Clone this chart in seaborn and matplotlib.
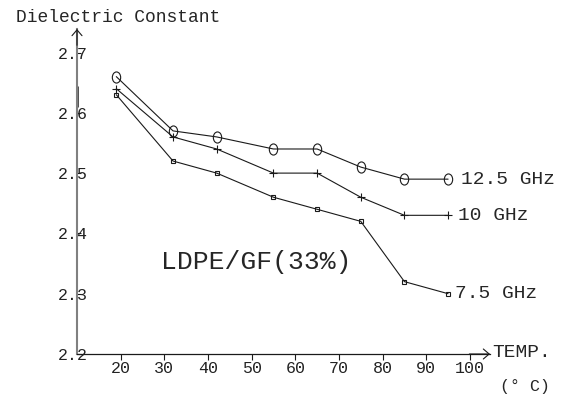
import numpy as np
import pandas as pd
import matplotlib
matplotlib.use("Agg")
import matplotlib.pyplot as plt
import seaborn as sns
from matplotlib.path import Path
from matplotlib.transforms import Affine2D

# ---- data ----
temps = [19, 32, 42, 55, 65, 75, 85, 95]
eps_12_5 = [2.66, 2.57, 2.56, 2.54, 2.54, 2.51, 2.49, 2.49]
eps_10 = [2.64, 2.56, 2.54, 2.50, 2.50, 2.46, 2.43, 2.43]
eps_7_5 = [2.63, 2.52, 2.50, 2.46, 2.44, 2.42, 2.32, 2.30]
series_labels = ["12.5 GHz", "10 GHz", "7.5 GHz"]
x_ticks = [20, 30, 40, 50, 60, 70, 80, 90, 100]
y_ticks = [2.2, 2.3, 2.4, 2.5, 2.6, 2.7]

sns.set_theme(style="white")
plt.rcParams["font.family"] = ["Liberation Mono", "DejaVu Sans Mono"]

fig = plt.figure(figsize=(5.71, 3.94), dpi=100)
ax = fig.add_axes([77 / 571, 40 / 394, (490 - 77) / 571, (354 - 29) / 394])

ellipse = Path.unit_circle().transformed(Affine2D().scale(0.75, 1.0))
styles = [
    dict(marker=ellipse, ms=8, mew=0.8),
    dict(marker="+", ms=5.5, mew=0.8),
    dict(marker="s", ms=3.5, mew=0.8),
]
series = [eps_12_5, eps_10, eps_7_5]
offsets = [9, 7, 5]
for vals, lab, st, off in zip(series, series_labels, styles, offsets):
    sns.lineplot(x=temps, y=vals, ax=ax, color="k", lw=0.8,
                 mfc="none", mec="k", **st)
    ax.annotate(lab, xy=(temps[-1], vals[-1]), xytext=(off, 0),
                textcoords="offset points", ha="left", va="center",
                fontsize=14, annotation_clip=False)

ax.set_xlim(10, 104.6)
ax.set_ylim(2.2, 2.739)
ax.set_xticks(x_ticks)
ax.set_xticklabels([str(t) for t in x_ticks])
ax.set_yticks(y_ticks)
ax.set_yticklabels([f"{t:.1f}" for t in y_ticks])
ax.tick_params(axis="x", direction="out", length=4, width=0.8, pad=1,
               labelsize=12, colors="#222222", bottom=True)
ax.tick_params(axis="y", direction="in", length=3, width=0.8, pad=3,
               labelsize=12, colors="#222222", left=True)
for lab in ax.get_yticklabels():
    lab.set_horizontalalignment("center")
ax.tick_params(axis="x", color="k")
ax.tick_params(axis="y", color="k")

for s in ["top", "right"]:
    ax.spines[s].set_visible(False)
ax.spines["left"].set_color("#808080")
ax.spines["left"].set_linewidth(1.5)
ax.spines["bottom"].set_color("k")
ax.spines["bottom"].set_linewidth(0.9)
ax.vlines(10, 2.61, 2.645, color="k", lw=1.8, clip_on=False)

# axis arrows
ax.annotate("", xy=(0, 1.0), xytext=(0, 0.95), xycoords="axes fraction",
            arrowprops=dict(arrowstyle="->,head_length=0.35,head_width=0.3",
                            color="k", lw=0.8, shrinkA=0, shrinkB=0))
ax.annotate("", xy=(1.0, 0), xytext=(0.95, 0), xycoords="axes fraction",
            arrowprops=dict(arrowstyle="->,head_length=0.35,head_width=0.3",
                            color="k", lw=0.8, shrinkA=0, shrinkB=0))

ax.text(1.005, 0.005, "TEMP.", transform=ax.transAxes, ha="left",
        va="center", fontsize=14)
ax.text(1.085, -0.10, "(° C)", transform=ax.transAxes, ha="center",
        va="center", fontsize=12)
ax.text(29.2, 2.352, "LDPE/GF(33%)", ha="left", va="center", fontsize=19)
fig.text(16 / 571, 1 - 17 / 394, "Dielectric Constant", ha="left",
         va="center", fontsize=13)

fig.savefig("out.png", dpi=100)
